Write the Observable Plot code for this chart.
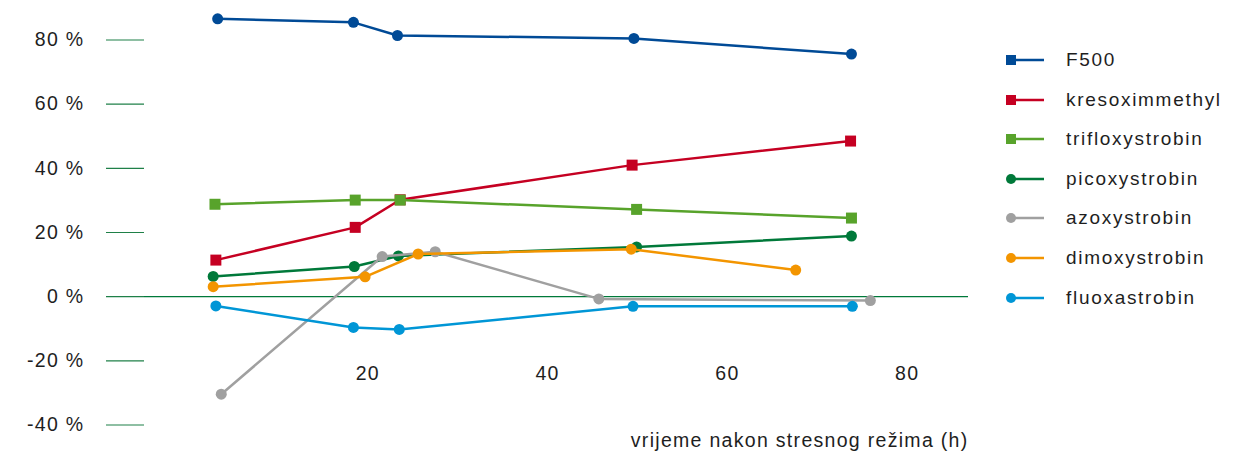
<!DOCTYPE html>
<html>
<head>
<meta charset="utf-8">
<script src="https://cdn.jsdelivr.net/npm/d3@7"></script>
<script src="https://cdn.jsdelivr.net/npm/@observablehq/plot@0.6"></script>
<style>
  html, body { margin: 0; padding: 0; background: #fff; }
  #wrap { position: relative; width: 1242px; height: 455px; font-family: "Liberation Sans", Arial, sans-serif; color: #1e1e1e; }
  #chart { position: absolute; left: 0; top: 0; }
  #legend { position: absolute; left: 1000px; top: 0; }
  .row { position: absolute; left: 0; height: 20px; display: flex; align-items: center; white-space: nowrap; }
  .row span { font-size: 19px; letter-spacing: 1.7px; margin-left: 20px; }
</style>
</head>
<body>
<div id="wrap"><div id="chart"></div><div id="legend"></div></div>
<script>
// ---- data ----
const seriesNames = ["F500", "kresoximmethyl", "trifloxystrobin", "picoxystrobin", "azoxystrobin", "dimoxystrobin", "fluoxastrobin"];
const seriesColors = ["#004a96", "#c50022", "#58a32b", "#00793a", "#a0a0a0", "#f39500", "#0096d6"];
const chartSymbols = ["circle", "square", "square", "circle", "circle", "circle", "circle"];
const legendSymbols = ["square", "square", "square", "circle", "circle", "circle", "circle"];

const hF500 = [3.3, 18.4, 23.3, 49.6, 73.8];
const vF500 = [86.6, 85.5, 81.4, 80.5, 75.6];
const hKresoxim = [3.1, 18.6, 23.6, 49.4, 73.7];
const vKresoxim = [11.4, 21.6, 30.2, 41.0, 48.5];
const hTrifloxy = [3.0, 18.6, 23.6, 49.9, 73.8];
const vTrifloxy = [28.8, 30.1, 30.1, 27.2, 24.5];
const hPicoxy = [2.8, 18.5, 23.4, 49.9, 73.8];
const vPicoxy = [6.3, 9.4, 12.7, 15.5, 18.9];
const hAzoxy = [3.7, 21.6, 27.5, 45.7, 75.9];
const vAzoxy = [-30.4, 12.5, 14.0, -0.7, -1.2];
const hDimoxy = [2.8, 19.7, 25.6, 49.3, 67.6];
const vDimoxy = [3.1, 6.2, 13.3, 14.8, 8.3];
const hFluoxa = [3.1, 18.4, 23.5, 49.5, 73.9];
const vFluoxa = [-2.9, -9.6, -10.2, -3.0, -3.0];

const yTicks = [-40, -20, 0, 20, 40, 60, 80];
const xTicks = [20, 40, 60, 80];
const xLabel = "vrijeme nakon stresnog režima (h)";

// ---- build table ----
const hours = [hF500, hKresoxim, hTrifloxy, hPicoxy, hAzoxy, hDimoxy, hFluoxa];
const values = [vF500, vKresoxim, vTrifloxy, vPicoxy, vAzoxy, vDimoxy, vFluoxa];
const rows = [];
seriesNames.forEach((s, i) => hours[i].forEach((h, j) => rows.push({series: s, h, v: values[i][j]})));

const seriesMarks = [];
seriesNames.forEach((s, i) => {
  const data = rows.filter(d => d.series === s);
  seriesMarks.push(Plot.line(data, {x: "h", y: "v", stroke: "series", strokeWidth: 2.5}));
  seriesMarks.push(Plot.dot(data, {x: "h", y: "v", fill: "series", stroke: "none",
    symbol: () => chartSymbols[i], r: chartSymbols[i] === "square" ? 6.2 : 5.5}));
});

const chart = Plot.plot({
  width: 975,
  height: 455,
  marginLeft: 144,
  marginRight: 7,
  marginTop: 20,
  marginBottom: 95,
  style: {fontFamily: "'Liberation Sans', Arial, sans-serif", fontSize: "19.5px", letterSpacing: "1.3px", color: "#1e1e1e", background: "transparent"},
  x: {domain: [0, 80], range: [187.5, 906.7]},
  y: {domain: [-40, 80], range: [424.5, 39.5]},
  color: {domain: seriesNames, range: seriesColors},
  symbol: {domain: ["circle", "square"], range: ["circle", "square"]},
  marks: [
    Plot.ruleY([0], {stroke: "#00793a", strokeWidth: 1.2}),
    Plot.axisY({ticks: yTicks, tickSize: 38, tickPadding: 22, tickFormat: d => `${d} %`, stroke: "#1f8048", strokeWidth: 1.2, fill: "#1e1e1e", fontSize: 19.5, label: null}),
    Plot.axisX({ticks: xTicks, tickSize: 0, tickPadding: 6, fill: "#1e1e1e", fontSize: 19.5, label: null}),
    Plot.text([xLabel], {frameAnchor: "bottom-right", text: d => d, textAnchor: "end", lineAnchor: "middle", dy: 80, fill: "#1e1e1e", fontSize: 19.5}),
    ...seriesMarks
  ]
});
document.getElementById("chart").appendChild(chart);

// ---- legend ----
const legend = d3.select("#legend");
seriesNames.forEach((s, i) => {
  const row = legend.append("div").attr("class", "row").style("top", (50 + i * 39.6) + "px");
  const sw = row.append("svg").attr("width", 46).attr("height", 20);
  sw.append("line").attr("x1", 11).attr("x2", 44).attr("y1", 10).attr("y2", 10)
    .attr("stroke", seriesColors[i]).attr("stroke-width", 2.5);
  if (legendSymbols[i] === "square") {
    sw.append("rect").attr("x", 6).attr("y", 5).attr("width", 10).attr("height", 10).attr("fill", seriesColors[i]);
  } else {
    sw.append("circle").attr("cx", 11).attr("cy", 10).attr("r", 5).attr("fill", seriesColors[i]);
  }
  row.append("span").text(s);
});
</script>
</body>
</html>
